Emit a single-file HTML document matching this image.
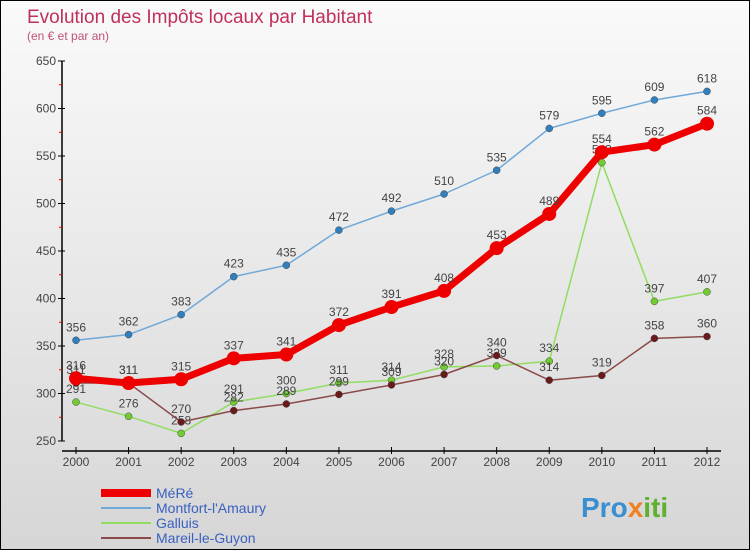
<!DOCTYPE html>
<html><head><meta charset="utf-8"><style>
body{margin:0;}
#c{width:748px;height:548px;border:1px solid #000;background:linear-gradient(#fafafa,#d6d6d6);position:relative;font-family:"Liberation Sans",sans-serif;}
svg text{font-family:"Liberation Sans",sans-serif;}
</style></head><body>
<div id="c">
<svg id="s" width="748" height="548">
<text x="26" y="22" font-size="19" fill="#c0305a">Evolution des Impôts locaux par Habitant</text>
<text x="26" y="39" font-size="12" fill="#c0507a">(en € et par an)</text>
<text x="580" y="516" font-size="28" font-weight="bold" fill="#3a8fd0">Pro<tspan fill="#f08020">x</tspan><tspan fill="#60b030">iti</tspan></text>
</svg></div>
<script>
const years=[2000,2001,2002,2003,2004,2005,2006,2007,2008,2009,2010,2011,2012];
const yTicks=[250,300,350,400,450,500,550,600,650];
const mere=[316,311,315,337,341,372,391,408,453,489,554,562,584];
const montfort=[356,362,383,423,435,472,492,510,535,579,595,609,618];
const galluis=[291,276,258,291,300,311,314,328,329,334,543,397,407];
const mareil=[311,311,270,282,289,299,309,320,340,314,319,358,360];
const names=["MéRé","Montfort-l'Amaury","Galluis","Mareil-le-Guyon"];
const s=document.getElementById('s');const NS='http://www.w3.org/2000/svg';
function X(i){return 75+i*(706-75)/(years.length-1);}
function Y(v){return 440-(v-250)*380/400;}
function mk(t,a,p){const e=document.createElementNS(NS,t);for(const k in a)e.setAttribute(k,a[k]);(p||s).appendChild(e);return e;}
let ax=mk('line',{x1:61,y1:Y(650),x2:61,y2:Y(250),stroke:'#000','stroke-width':1.5});


let bx=mk('line',{x1:61,y1:450,x2:720,y2:450,stroke:'#000','stroke-width':1.5});


yTicks.forEach((v,i)=>{mk('line',{x1:57,x2:64,y1:Y(v),y2:Y(v),stroke:'#000'});
if(i<yTicks.length-1)mk('line',{x1:58,x2:61,y1:Y(v+25),y2:Y(v+25),stroke:'#e00'});
const t=mk('text',{x:55,y:Y(v)+4,'font-size':12,'text-anchor':'end',fill:'#444'});t.textContent=v;

});
years.forEach((y,i)=>{mk('line',{x1:X(i),x2:X(i),y1:446,y2:453,stroke:'#000'});
const t=mk('text',{x:X(i),y:465,'font-size':12,'text-anchor':'middle',fill:'#444'});t.textContent=y;

});
const series=[[galluis,'#90dd60','#70cc30',1.5,3.5,'galluis'],[mareil,'#8a4a4a','#6a1a1a',1.5,3.5,'mareil'],[montfort,'#70a8d8','#3080c0',1.5,3.5,'montfort'],[mere,'#ee0000','#ee0000',7,7,'mere']];
series.forEach(([d,lc,pc,w,r,n])=>{
const pl=mk('polyline',{points:d.map((v,i)=>X(i)+','+Y(v)).join(' '),fill:'none',stroke:lc,'stroke-width':w,'stroke-linejoin':'round'});


d.forEach((v,i)=>{const c=mk('circle',{cx:X(i),cy:Y(v),r:r,fill:pc,stroke:r>5?'none':'#444','stroke-width':0.5});


const t=mk('text',{x:X(i),y:Y(v)-9,'font-size':12,'text-anchor':'middle',fill:'#444'});t.textContent=v;

});});
const lcol=['#ee0000','#70a8d8','#90dd60','#8a4a4a'],lw=[8,2,2,2];
names.forEach((n,i)=>{const y=492+i*15;
const l=mk('line',{x1:100,x2:150,y1:y,y2:y,stroke:lcol[i],'stroke-width':lw[i]});


const t=mk('text',{x:155,y:y+5,'font-size':14,fill:'#3a60c0'});t.textContent=n;

});
</script></body></html>
